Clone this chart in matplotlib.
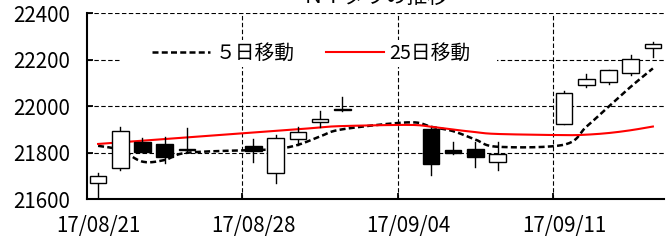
import numpy as np
import pandas as pd
import matplotlib
matplotlib.use("Agg")
import matplotlib.pyplot as plt
from matplotlib.patches import Rectangle
from matplotlib.lines import Line2D

plt.rcParams['font.family'] = ['Noto Sans CJK JP', 'DejaVu Sans']

title = "ＮＹダウの推移"
dates = ["2017-08-21", "2017-08-22", "2017-08-23", "2017-08-24", "2017-08-25",
         "2017-08-28", "2017-08-29", "2017-08-30", "2017-08-31", "2017-09-01",
         "2017-09-04", "2017-09-05", "2017-09-06", "2017-09-07", "2017-09-08",
         "2017-09-11", "2017-09-12", "2017-09-13", "2017-09-14", "2017-09-15"]
nan = np.nan
open_ = [21668, 21736, 21848, 21838, 21810, 21831, 21714, 21859, 21931, 21990,
         nan, 21901, 21812, 21818, 21760, 21924, 22092, 22103, 22142, 22249]
high = [21714, 21912, 21862, 21869, 21905, 21858, 21877, 21910, 21981, 22039,
        nan, 21905, 21845, 21848, 21845, 22066, 22138, 22158, 22221, 22275]
low = [21598, 21726, 21805, 21757, 21806, 21762, 21671, 21834, 21912, 21980,
       nan, 21705, 21794, 21740, 21726, 21924, 22084, 22096, 22135, 22213]
close = [21700, 21895, 21805, 21781, 21818, 21808, 21862, 21891, 21945, 21983,
         nan, 21752, 21800, 21783, 21794, 22056, 22119, 22157, 22203, 22269]
ma5 = [21830, 21812, 21762, 21769, 21800, 21812, 21815, 21834, 21870, 21901,
       21931, 21912, 21893, 21857, 21826, 21835, 21912, 21998, 22084, 22163]
ma25 = [21838, 21845, 21852, 21859, 21866, 21887, 21894, 21901, 21909, 21915,
        21920, 21912, 21900, 21889, 21881, 21876, 21878, 21885, 21897, 21913]
legend_labels = ["５日移動", "25日移動"]
xtick_labels = ["17/08/21", "17/08/28", "17/09/04", "17/09/11"]
yticks = [21600, 21800, 22000, 22200, 22400]

start = pd.Timestamp("2017-08-21")
x = np.array((pd.to_datetime(dates) - start).days, dtype=float)
label_x = np.array((pd.to_datetime(["2017-08-21", "2017-08-28", "2017-09-04", "2017-09-11"]) - start).days, dtype=float)


def smooth(xs, ys, n=24):
    P = np.column_stack([xs, ys]).astype(float)
    out = [P[0]]
    t = np.linspace(0, 1, n)[1:, None]
    for i in range(len(P) - 1):
        p0 = P[i - 1] if i > 0 else P[i]
        p1 = P[i]
        p2 = P[i + 1]
        p3 = P[i + 2] if i + 2 < len(P) else P[i + 1]
        c1 = p1 + (p2 - p0) / 6
        c2 = p2 - (p3 - p1) / 6
        seg = (1 - t) ** 3 * p1 + 3 * (1 - t) ** 2 * t * c1 + 3 * (1 - t) * t ** 2 * c2 + t ** 3 * p2
        out.extend(seg)
    return np.array(out)


fig = plt.figure(figsize=(6.71, 2.40), dpi=100)
ax = fig.add_axes([87 / 671, 1 - 199.3 / 240, 577 / 671, 186 / 240])

s5 = smooth(x, ma5)
s25 = smooth(x, ma25)
l5, = ax.plot(s5[:, 0], s5[:, 1], color='black', lw=1.8, linestyle=(0, (2.4, 1.3)), zorder=2.5)
l25, = ax.plot(s25[:, 0], s25[:, 1], color='#ff0000', lw=1.5, zorder=2.5)

w = 0.75
for xi, o, h, l, c in zip(x, open_, high, low, close):
    if np.isnan(o):
        continue
    ax.plot([xi, xi], [l, h], color='black', lw=1.0, zorder=3, clip_on=True)
    fc = 'white' if c >= o else 'black'
    ax.add_patch(Rectangle((xi - w / 2, min(o, c)), w, max(abs(c - o), 1.5),
                           facecolor=fc, edgecolor='black', lw=1.0, zorder=4))

ax.set_xlim(-0.5, 25.5)
ax.set_ylim(21600, 22400)
ax.set_yticks(yticks)
ax.set_yticklabels([str(v) for v in yticks])
ax.set_xticks([6.5, 13.5, 20.5])
ax.set_xticklabels([])
ax.set_xticks(label_x, minor=True)
ax.set_xticklabels(xtick_labels, minor=True)

ax.grid(True, which='major', color='black', lw=0.8, linestyle=(0, (4, 2.2)))
ax.tick_params(axis='both', which='major', direction='in', length=4, width=1.3,
               labelsize=14.8, pad=12)
ax.tick_params(axis='x', which='minor', direction='in', length=0, labelsize=14.8, pad=11)
for sp in ['top', 'right']:
    ax.spines[sp].set_visible(False)
for sp in ['left', 'bottom']:
    ax.spines[sp].set_linewidth(1.5)
    ax.spines[sp].set_zorder(5)

ax.add_patch(Rectangle(((120 - 87) / 577, (199.3 - 67) / 186), (497 - 120) / 577, 27 / 186,
                       transform=ax.transAxes, facecolor='white', edgecolor='none', zorder=1.8))

h5 = Line2D([], [], color='black', lw=1.8, linestyle=(0, (2.4, 1.3)))
h25 = Line2D([], [], color='#ff0000', lw=1.5)
leg = ax.legend([h5, h25], legend_labels, ncol=2, loc='center',
                bbox_to_anchor=((311.5 - 87) / 577, (199.3 - 53) / 186),
                frameon=False, handlelength=2.93, handletextpad=0.3,
                columnspacing=1.55, fontsize=14.2, borderpad=0.1)
leg.set_zorder(6)

fig.text(375.5 / 671, (240 - 3) / 240, title, ha='center', va='baseline', fontsize=15)

fig.savefig("out.png", dpi=100)
